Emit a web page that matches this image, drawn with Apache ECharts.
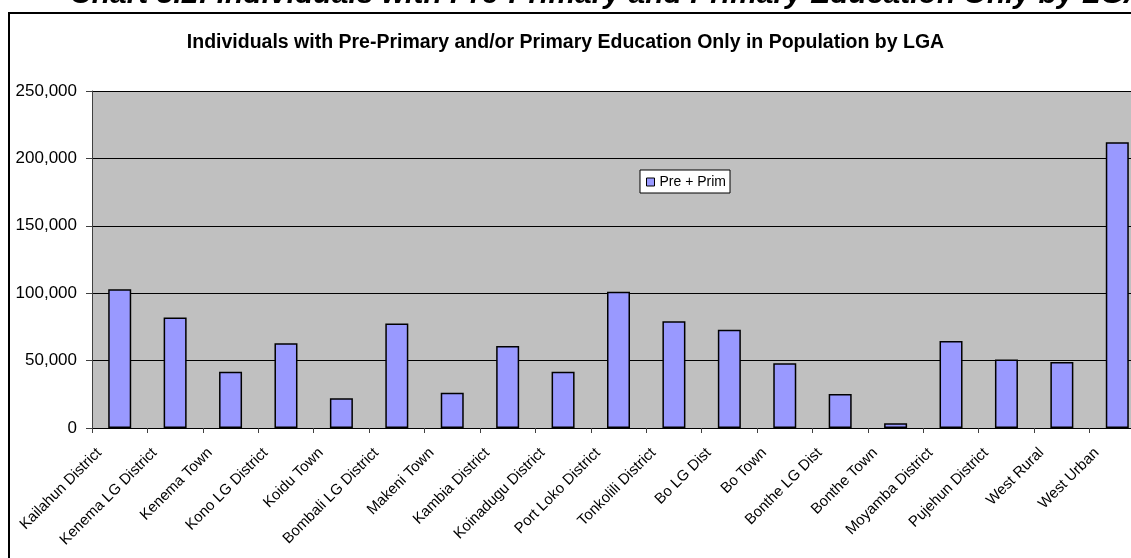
<!DOCTYPE html>
<html>
<head>
<meta charset="utf-8">
<script src="https://cdn.jsdelivr.net/npm/echarts@6/dist/echarts.min.js"></script>
<style>
html,body{margin:0;padding:0;background:#fff;}
#chart{width:1131px;height:558px;}
</style>
</head>
<body>
<div id="chart"></div>
<script>
const categories = ["Kailahun District","Kenema LG District","Kenema Town","Kono LG District","Koidu Town","Bombali LG District","Makeni Town","Kambia District","Koinadugu District","Port Loko District","Tonkolili District","Bo LG Dist","Bo Town","Bonthe LG Dist","Bonthe Town","Moyamba District","Pujehun District","West Rural","West Urban"];
const preprim = [103000,81900,41800,62900,22000,77500,26200,60900,41800,101000,79200,72800,48000,25200,3500,64600,50800,49000,211900];
const seriesName = "Pre + Prim";
const yTicks = {min:0, max:250000, interval:50000};
const outerTitle = "Chart 3.2: Individuals with Pre-Primary and Primary Education Only by LGA";
const innerTitle = "Individuals with Pre-Primary and/or Primary Education Only in Population by LGA";

const FONT = '"Liberation Sans", Arial, sans-serif';
const chart = echarts.init(document.getElementById('chart'), null, {renderer:'canvas'});
chart.setOption({
  backgroundColor:'#ffffff',
  animation:false,
  graphic:[
    {type:'rect', z:-10, shape:{x:9,y:13,width:1200,height:600}, style:{fill:'#ffffff',stroke:'#000',lineWidth:2}},
    {type:'text', left:70, top:-20, style:{text:outerTitle, font:'italic bold 30px '+FONT, fill:'#000'}}
  ],
  title:{text:innerTitle, left:'center', top:28, textStyle:{fontFamily:FONT, fontSize:19.5, fontWeight:'bold', color:'#000'}},
  legend:{left:640, top:170, orient:'horizontal', backgroundColor:'#fff', borderColor:'#000', borderWidth:1,
    padding:[5,4,4,6], itemWidth:8, itemHeight:8, itemGap:5,
    textStyle:{fontFamily:FONT, fontSize:14, color:'#000'},
    itemStyle:{borderColor:'#000', borderWidth:1}, data:[{name:seriesName, icon:'rect'}]},
  grid:{left:92, top:91, width:1053, bottom:130, containLabel:false, outerBoundsMode:'none', show:true, backgroundColor:'#C0C0C0', borderWidth:0},
  xAxis:{type:'category', data:categories, boundaryGap:true,
    axisLine:{show:true, lineStyle:{color:'#000', width:1}},
    axisTick:{show:true, length:5, alignWithLabel:false, interval:0, lineStyle:{color:'#404040'}},
    axisLabel:{interval:0, rotate:45, margin:2, padding:[0,29,0,0], fontFamily:FONT, fontSize:15, color:'#000'}},
  yAxis:{type:'value', min:yTicks.min, max:yTicks.max, interval:yTicks.interval,
    axisLine:{show:true, lineStyle:{color:'#404040', width:1}},
    axisTick:{show:true, length:6, lineStyle:{color:'#404040'}},
    axisLabel:{margin:15, fontFamily:FONT, fontSize:17, color:'#000',
      formatter:v=>v.toLocaleString('en-US')},
    splitLine:{show:true, lineStyle:{color:'#000', width:1}}},
  series:[{name:seriesName, type:'bar', data:preprim, barWidth:23,
    itemStyle:{color:'#9999FF', borderColor:'#000', borderWidth:1.5}}]
});
</script>
</body>
</html>
